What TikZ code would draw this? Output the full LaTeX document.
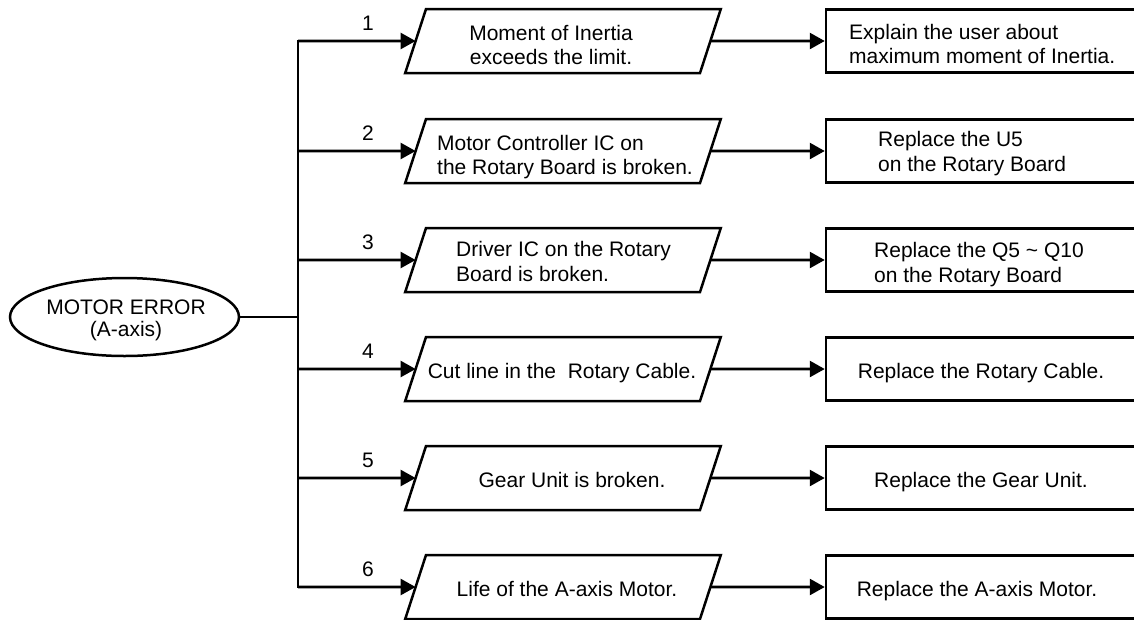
\documentclass[tikz,border=0pt]{standalone}
\usepackage{fontspec}
\setmainfont{Liberation Sans}
\usetikzlibrary{shapes.geometric,arrows.meta}
\begin{document}
\begin{tikzpicture}[x=1pt,y=-1pt,
  every node/.style={font=\fontsize{21}{24.5}\selectfont},
  cause/.style={trapezium, draw, line width=2.5pt,
    trapezium left angle=72, trapezium right angle=108,
    inner sep=0pt, outer sep=0pt,
    text width=274pt, text height=64pt, text depth=0pt},
  remedy/.style={rectangle, draw, line width=2.5pt,
    minimum width=320pt, minimum height=63pt, inner sep=4pt},
  start/.style={ellipse, draw, line width=2.5pt,
    minimum width=229pt, minimum height=78pt, inner sep=4pt},
  txt/.style={inner sep=0pt},
  num/.style={inner sep=0pt},
  wire/.style={line width=2.6pt, line cap=rect},
  link/.style={line width=2.6pt, -{Triangle[length=15pt,width=16pt]}}]

\useasboundingbox (0,0) rectangle (1134,619);
\clip (0,0) rectangle (1134,619);

% starting symptom
\node[start] (err) at (124.5,317) {};
\node[txt, align=center, font=\fontsize{21}{22}\selectfont, anchor=north]
  (errtxt) at (126,300) {MOTOR ERROR\\(A-axis)};

% trunk coordinates, cause and remedy frames, branch numbers
\coordinate (tm) at (298,317);
\foreach \i/\y in {1/41,2/151,3/260,4/369,5/478,6/587}{
  \coordinate (t\i) at (298,\y);
  \node[cause]  (p\i) at (563,\y) {};
  \node[remedy] (r\i) at (986,\y) {};
  \node[num] (n\i) at (368,\y-17.5) {\i};
}

% causes
\node[txt, align=center, anchor=north] (c1) at (551,25)
  {Moment of Inertia\\exceeds the limit.};
\node[txt, align=left, anchor=north west] (c2) at (437,135)
  {Motor Controller IC on\\the Rotary Board is broken.};
\node[txt, align=left, anchor=north west] (c3) at (456,241.5)
  {Driver IC on the Rotary\\Board is broken.};
\node[txt, anchor=base] (c4) at (562,378) {Cut line in the\ \ Rotary Cable.};
\node[txt, anchor=base] (c5) at (572,487) {Gear Unit is broken.};
\node[txt, anchor=base] (c6) at (567,596) {Life of the A-axis Motor.};

% remedies
\node[txt, align=left, anchor=north west] (s1) at (849,24)
  {Explain the user about\\maximum moment of Inertia.};
\node[txt, align=left, anchor=north west] (s2) at (878,131.5)
  {Replace the U5\\on the Rotary Board};
\node[txt, align=left, anchor=north west] (s3) at (874,242.5)
  {Replace the Q5 \textasciitilde{} Q10\\on the Rotary Board};
\node[txt, anchor=base] (s4) at (981,378) {Replace the Rotary Cable.};
\node[txt, anchor=base] (s5) at (981,487) {Replace the Gear Unit.};
\node[txt, anchor=base] (s6) at (977,596.5) {Replace the A-axis Motor.};

% connectors
\draw[wire] (t1) -- (t6);
\draw[line width=2.6pt] (err) -- (tm);
\foreach \i in {1,...,6}{
  \draw[link] (t\i) -- (p\i);
  \draw[link] (p\i) -- (r\i);
}
\end{tikzpicture}
\end{document}
